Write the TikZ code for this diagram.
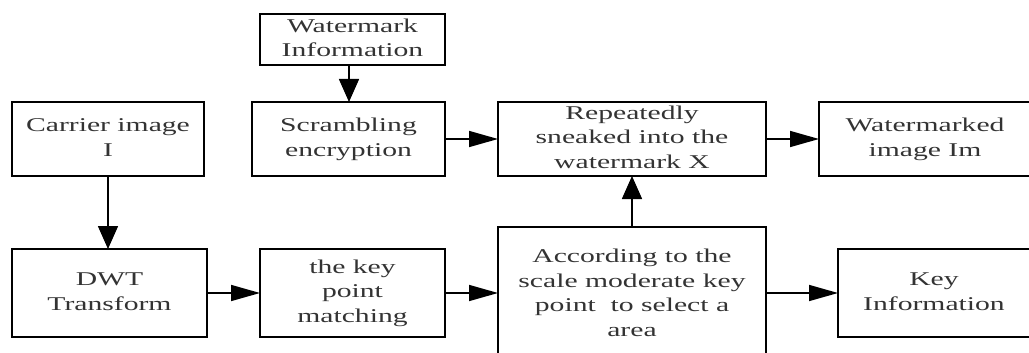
\documentclass[tikz,border=0pt]{standalone}
\usepackage{fontspec}
\setmainfont{Liberation Serif}
\usetikzlibrary{arrows.meta}
\newcommand\boxtext[1]{\scalebox{1.52}[1]{\begin{tabular}{@{}c@{}}#1\end{tabular}}}
\tikzset{
  box/.style={draw=black, line width=1.6pt, inner sep=0pt, outer sep=0pt,
    align=center, text=black!80, font=\fontsize{19.5}{24.5}\selectfont},
  harrow/.style={line width=1.6pt, -{Triangle[length=29pt,width=16pt]}},
  varrow/.style={line width=1.6pt, -{Triangle[length=23pt,width=20pt]}}
}
\begin{document}
\begin{tikzpicture}[x=1pt,y=-1pt]
\useasboundingbox (0,0) rectangle (1029,353);
\clip (0,0) rectangle (1029,353);
\node[box, minimum width=185pt, minimum height=51pt] (wm) at (352.5,39.5) {\boxtext{Watermark\\Information}};
\node[box, minimum width=192pt, minimum height=74pt] (carrier) at (108,139) {\boxtext{Carrier image\\I}};
\node[box, minimum width=193pt, minimum height=74pt] (scr) at (348.5,139) {\boxtext{Scrambling\\encryption}};
\node[box, minimum width=268pt, minimum height=74pt] (rep) at (632,139) {\boxtext{Repeatedly\\sneaked into the\\watermark X}};
\node[box, minimum width=212pt, minimum height=74pt] (wmd) at (925,139) {\boxtext{Watermarked\\image Im}};
\node[box, minimum width=195pt, minimum height=88pt] (dwt) at (109.5,293) {\boxtext{DWT\\Transform}};
\node[box, minimum width=185pt, minimum height=88pt] (kpm) at (352.5,293) {\boxtext{the key\\point\\matching}};
\node[box, minimum width=268pt, minimum height=135pt] (acc) at (632,294.5) {\boxtext{According to the\\scale moderate key\\point\ \ to select a\\area}};
\node[box, minimum width=192pt, minimum height=88pt] (key) at (934,293) {\boxtext{Key\\Information}};
\coordinate (wmout) at (349,65);
\draw[varrow] (wmout) -- (wmout |- scr.north);
\draw[varrow] (carrier.south) -- (carrier.south |- dwt.north);
\draw[harrow] (scr.east) -- (scr.east -| rep.west);
\draw[harrow] (rep.east) -- (rep.east -| wmd.west);
\draw[harrow] (dwt.east) -- (dwt.east -| kpm.west);
\draw[harrow] (kpm.east) -- (kpm.east -| acc.west);
\draw[harrow] (acc.east |- key.west) -- (key.west);
\draw[varrow] (acc.north) -- (acc.north |- rep.south);
\end{tikzpicture}
\end{document}
